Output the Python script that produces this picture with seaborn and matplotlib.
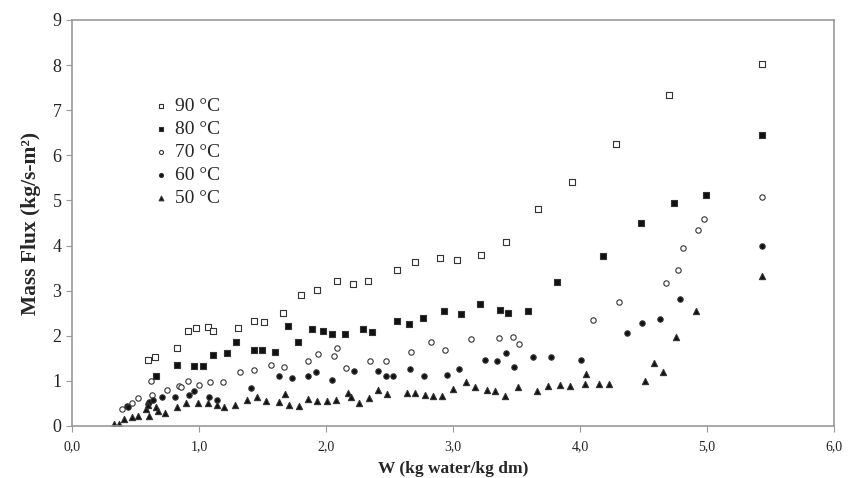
import numpy as np
import pandas as pd
import matplotlib
matplotlib.use("Agg")
import matplotlib.pyplot as plt
import seaborn as sns

# valeurs
w90 = [0.60, 0.65, 0.83, 0.91, 0.98, 1.07, 1.11, 1.31, 1.43, 1.51, 1.66, 1.80, 1.93, 2.09, 2.21, 2.33,
       2.56, 2.70, 2.90, 3.03, 3.22, 3.42, 3.67, 3.94, 4.28, 4.70, 5.43]
f90 = [1.46, 1.53, 1.73, 2.11, 2.17, 2.19, 2.11, 2.18, 2.33, 2.31, 2.51, 2.90, 3.01, 3.21, 3.15, 3.21,
       3.46, 3.64, 3.72, 3.67, 3.80, 4.07, 4.80, 5.41, 6.25, 7.34, 8.03]

w80 = [0.66, 0.83, 0.96, 1.03, 1.11, 1.22, 1.29, 1.43, 1.50, 1.60, 1.70, 1.78, 1.89, 1.98, 2.05, 2.15,
       2.29, 2.36, 2.56, 2.65, 2.76, 2.93, 3.06, 3.21, 3.37, 3.43, 3.59, 3.82, 4.18, 4.48, 4.74, 4.99, 5.43]
f80 = [1.11, 1.35, 1.33, 1.33, 1.57, 1.61, 1.86, 1.69, 1.69, 1.63, 2.22, 1.86, 2.16, 2.10, 2.05, 2.04,
       2.15, 2.09, 2.33, 2.26, 2.40, 2.56, 2.48, 2.71, 2.58, 2.51, 2.54, 3.19, 3.77, 4.49, 4.94, 5.12, 6.45]

w70 = [0.39, 0.47, 0.52, 0.62, 0.63, 0.75, 0.84, 0.86, 0.91, 1.00, 1.09, 1.19, 1.32, 1.43, 1.57, 1.67,
       1.86, 1.94, 2.06, 2.09, 2.16, 2.35, 2.47, 2.67, 2.83, 2.94, 3.14, 3.36, 3.47, 3.52, 4.10, 4.31,
       4.68, 4.77, 4.81, 4.93, 4.98, 5.43]
f70 = [0.38, 0.51, 0.62, 0.99, 0.69, 0.80, 0.88, 0.86, 1.00, 0.91, 0.97, 0.97, 1.20, 1.24, 1.35, 1.31,
       1.44, 1.60, 1.55, 1.73, 1.29, 1.44, 1.44, 1.65, 1.86, 1.68, 1.93, 1.95, 1.97, 1.82, 2.35, 2.75,
       3.17, 3.45, 3.95, 4.35, 4.58, 5.08]

w60 = [0.43, 0.44, 0.60, 0.61, 0.64, 0.71, 0.81, 0.92, 0.96, 1.08, 1.14, 1.41, 1.63, 1.73, 1.86, 1.92,
       2.05, 2.22, 2.41, 2.47, 2.53, 2.66, 2.77, 2.95, 3.05, 3.25, 3.35, 3.42, 3.48, 3.63, 3.77, 4.01,
       4.37, 4.49, 4.63, 4.79, 5.43]
f60 = [0.45, 0.43, 0.49, 0.53, 0.58, 0.64, 0.64, 0.69, 0.78, 0.65, 0.58, 0.85, 1.11, 1.07, 1.11, 1.19,
       1.01, 1.21, 1.21, 1.11, 1.11, 1.26, 1.10, 1.13, 1.26, 1.46, 1.44, 1.62, 1.31, 1.53, 1.53, 1.46,
       2.06, 2.28, 2.37, 2.82, 3.99]

w50 = [0.33, 0.37, 0.41, 0.47, 0.52, 0.58, 0.61, 0.60, 0.66, 0.68, 0.73, 0.83, 0.90, 0.99, 1.07, 1.14,
       1.20, 1.28, 1.38, 1.46, 1.53, 1.63, 1.68, 1.71, 1.79, 1.86, 1.93, 2.01, 2.08, 2.17, 2.20, 2.26,
       2.34, 2.41, 2.48, 2.64, 2.70, 2.78, 2.84, 2.91, 3.00, 3.10, 3.17, 3.27, 3.33, 3.41, 3.51, 3.66,
       3.75, 3.84, 3.92, 4.04, 4.05, 4.15, 4.23, 4.51, 4.58, 4.65, 4.76, 4.91, 5.43]
f50 = [0.04, 0.04, 0.15, 0.20, 0.22, 0.37, 0.23, 0.46, 0.43, 0.34, 0.28, 0.43, 0.51, 0.51, 0.52, 0.46,
       0.42, 0.46, 0.57, 0.64, 0.55, 0.53, 0.70, 0.47, 0.45, 0.59, 0.55, 0.55, 0.58, 0.74, 0.65, 0.52,
       0.63, 0.79, 0.72, 0.73, 0.73, 0.68, 0.66, 0.66, 0.81, 0.98, 0.87, 0.79, 0.78, 0.66, 0.86, 0.78,
       0.88, 0.90, 0.88, 0.93, 1.16, 0.93, 0.93, 0.99, 1.39, 1.19, 1.97, 2.55, 3.32]

labels = ["90 °C", "80 °C", "70 °C", "60 °C", "50 °C"]

df = pd.concat([
    pd.DataFrame({"W": w, "flux": f, "serie": lab})
    for w, f, lab in zip([w90, w80, w70, w60, w50], [f90, f80, f70, f60, f50], labels)
])

sns.set_style("white")
plt.rcParams["font.family"] = ["Liberation Serif", "DejaVu Serif"]

fig = plt.figure(figsize=(8.58, 4.78), dpi=100)
ax = fig.add_axes([0.0839, 0.1088, 0.8881, 0.8494])

# marqueur, rempli ou non, taille
styles = {
    "90 °C": ("s", False, 17),
    "80 °C": ("s", True, 17),
    "70 °C": ("o", False, 15),
    "60 °C": ("o", True, 15),
    "50 °C": ("^", True, 20),
}

for lab in labels:
    m, filled, s = styles[lab]
    sub = df[df["serie"] == lab]
    sns.scatterplot(data=sub, x="W", y="flux", ax=ax, marker=m, s=s,
                    color="#111111" if filled else "white",
                    edgecolor="#333333", linewidth=0.8, label=lab)

ax.set_xlim(0, 6)
ax.set_ylim(0, 9)
ax.set_xticks(np.arange(0, 7, 1))
ax.set_xticklabels([f"{v:.1f}".replace(".", ",") for v in range(7)], fontsize=10)
ax.set_yticks(range(10))
ax.set_yticklabels([str(v) for v in range(10)], fontsize=13)
ax.tick_params(axis="both", direction="out", length=4, width=0.8, color="#999999",
               bottom=True, left=True, labelcolor="#222222")
ax.tick_params(axis="x", pad=6)

for sp in ax.spines.values():
    sp.set_color("#999999")
    sp.set_linewidth(1.2)

ax.set_xlabel("W (kg water/kg dm)", fontsize=12.5, fontweight="bold", labelpad=6)
ax.set_ylabel("Mass Flux (kg/s-m²)", fontsize=15.5, fontweight="bold", labelpad=8)

leg = ax.legend(loc="upper left", bbox_to_anchor=(0.095, 0.828), frameon=False,
                fontsize=14, handletextpad=0.3, handlelength=0.9, labelspacing=0.28,
                borderaxespad=0, markerscale=0.75)

fig.savefig("out.png", dpi=100)
